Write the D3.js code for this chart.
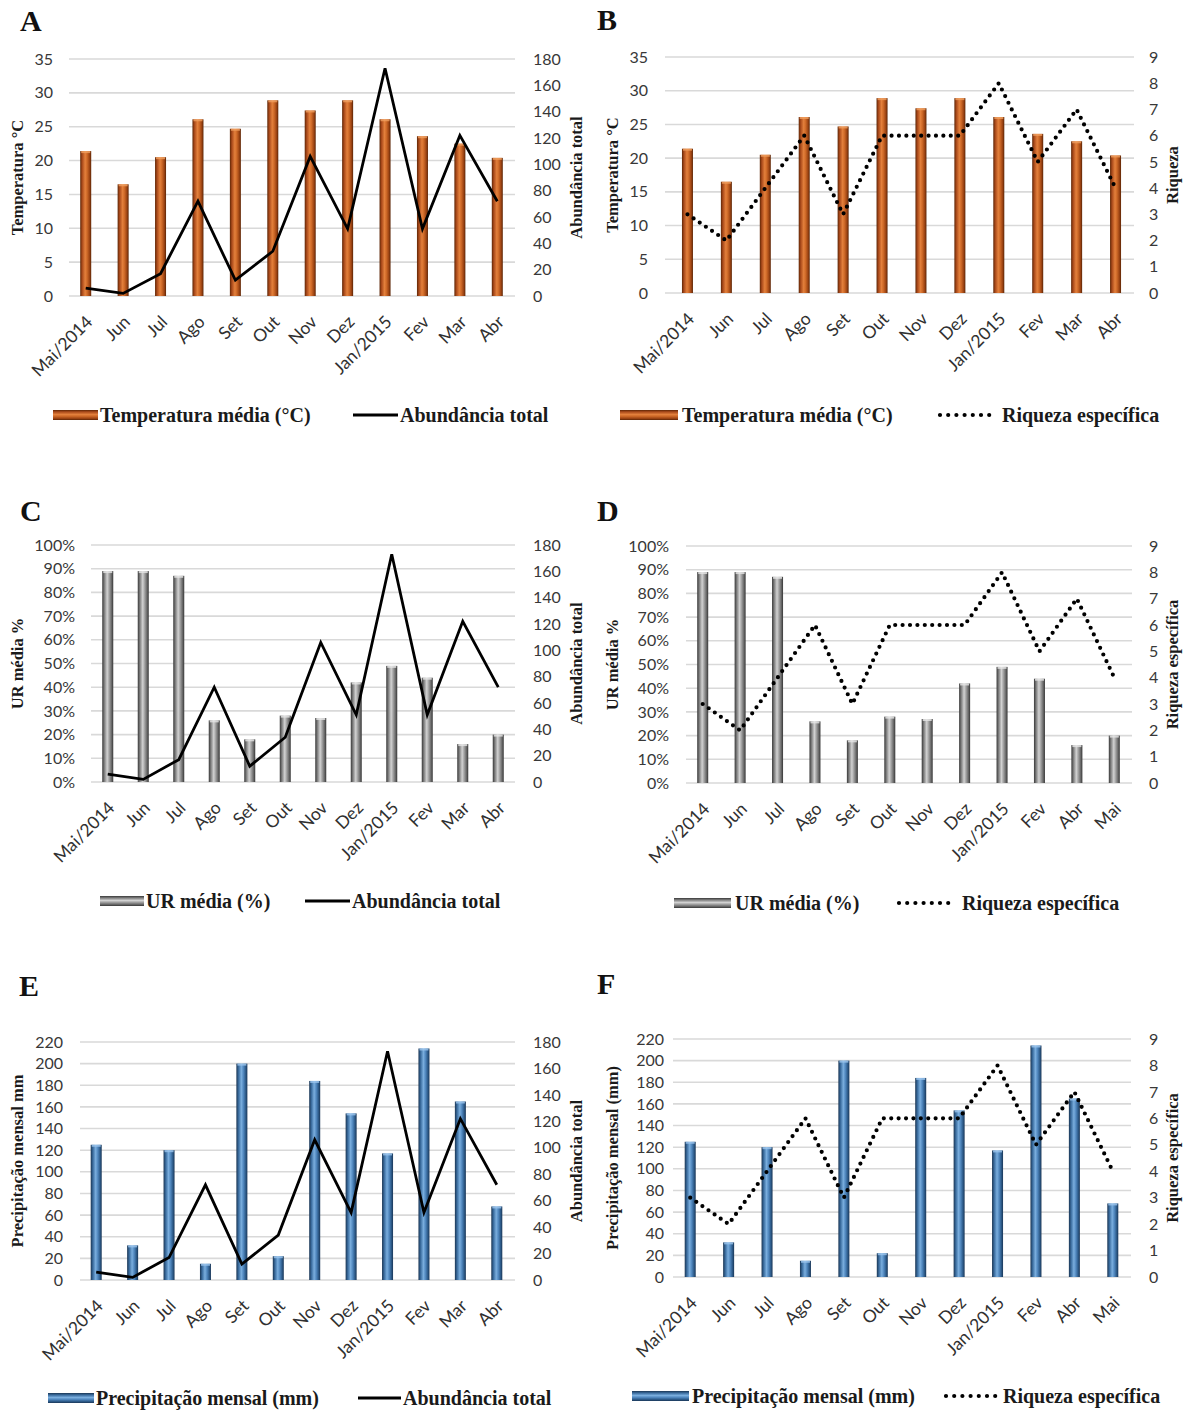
<!DOCTYPE html>
<html>
<head>
<meta charset="utf-8">
<script src="https://cdn.jsdelivr.net/npm/d3@7"></script>
<style>
  body { margin: 0; background: #fff; }
  svg { display: block; }
</style>
</head>
<body>
<svg id="chart" width="1188" height="1411"></svg>
<script>
// ---------------- DATA ----------------
const monthsA = ["Mai/2014","Jun","Jul","Ago","Set","Out","Nov","Dez","Jan/2015","Fev","Mar","Abr"];
const monthsB = ["Mai/2014","Jun","Jul","Ago","Set","Out","Nov","Dez","Jan/2015","Fev","Abr","Mai"];
const temperature   = [21.4, 16.5, 20.5, 26.1, 24.7, 28.9, 27.4, 28.9, 26.1, 23.6, 22.5, 20.4];
const humidity      = [0.89, 0.89, 0.87, 0.26, 0.18, 0.28, 0.27, 0.42, 0.49, 0.44, 0.16, 0.20];
const precipitation = [125, 32, 120, 15, 200, 22, 184, 154, 117, 214, 165, 68];
const abundance     = [6, 2, 17, 72, 12, 34, 106, 51, 173, 51, 122, 72];
const richness      = [3, 2, 4, 6, 3, 6, 6, 6, 8, 5, 7, 4];
const tempTicks  = [0, 5, 10, 15, 20, 25, 30, 35];
const humTicks   = [0, 0.1, 0.2, 0.3, 0.4, 0.5, 0.6, 0.7, 0.8, 0.9, 1.0];
const precTicks  = [0, 20, 40, 60, 80, 100, 120, 140, 160, 180, 200, 220];
const abundTicks = [0, 20, 40, 60, 80, 100, 120, 140, 160, 180];
const richTicks  = [0, 1, 2, 3, 4, 5, 6, 7, 8, 9];

// ---------------- STYLE ----------------
const SANS = "Lato, 'Open Sans', 'Liberation Sans', sans-serif";
const SERIF = "'Liberation Serif', 'DejaVu Serif', serif";

const svg = d3.select("#chart");
const defs = svg.append("defs");

function gradient(id, stops, vertical) {
  const lg = defs.append("linearGradient").attr("id", id)
    .attr("x1", "0").attr("y1", "0")
    .attr("x2", vertical ? "0" : "1").attr("y2", vertical ? "1" : "0");
  stops.forEach(([o, c]) => lg.append("stop").attr("offset", o).attr("stop-color", c));
}
const palettes = {
  orange: [["0%","#5e2606"],["18%","#a9491a"],["45%","#e3803c"],["62%","#cf6a28"],["85%","#9a4212"],["100%","#5a2405"]],
  gray:   [["0%","#383838"],["20%","#808080"],["45%","#d2d2d2"],["65%","#9c9c9c"],["85%","#666666"],["100%","#363636"]],
  blue:   [["0%","#1a3553"],["20%","#3a6c9e"],["45%","#7aaede"],["65%","#4f86bd"],["85%","#2c5987"],["100%","#1a3656"]]
};
Object.entries(palettes).forEach(([k, s]) => {
  gradient("bar-" + k, s, false);
  gradient("leg-" + k, s, true);
});
const capColor = { orange: "#f0a060", gray: "#e6e6e6", blue: "#9cc6ee" };

function drawPanel(p) {
  const g = svg.append("g");
  const x = d3.scaleBand().domain(p.cats).range([p.x0, p.x1]);
  const yL = d3.scaleLinear().domain(p.leftDomain).range([p.yBot, p.yTop]);
  const yR = d3.scaleLinear().domain(p.rightDomain).range([p.yBot, p.yTop]);
  const cx = d => x(d) + x.bandwidth() / 2;

  // panel letter
  g.append("text").attr("x", p.letterX).attr("y", p.letterY)
    .attr("font-family", SERIF).attr("font-weight", "bold").attr("font-size", 30)
    .attr("fill", "#111").text(p.letter);

  // gridlines
  g.append("g").selectAll("line").data(p.leftTicks).join("line")
    .attr("x1", p.gx0).attr("x2", p.gx1)
    .attr("y1", d => yL(d)).attr("y2", d => yL(d))
    .attr("stroke", "#d9d9d9").attr("stroke-width", 1.6);

  // left axis
  const la = g.append("g").attr("transform", `translate(${p.leftLabelX},0)`)
    .call(d3.axisLeft(yL).tickValues(p.leftTicks).tickSize(0).tickPadding(0).tickFormat(p.leftFmt));
  la.select(".domain").remove();
  la.selectAll("text").attr("font-family", SANS).attr("font-size", 16).attr("fill", "#383838");

  // right axis
  const ra = g.append("g").attr("transform", `translate(${p.rightLabelX},0)`)
    .call(d3.axisRight(yR).tickValues(p.rightTicks).tickSize(0).tickPadding(0).tickFormat(d3.format("d")));
  ra.select(".domain").remove();
  ra.selectAll("text").attr("font-family", SANS).attr("font-size", 16).attr("fill", "#383838");

  // category axis
  const xa = g.append("g").attr("transform", `translate(0,${p.yBot})`)
    .call(d3.axisBottom(x).tickSize(0));
  xa.select(".domain").remove();
  xa.selectAll("text")
    .attr("x", 0).attr("y", 0).attr("dy", 0)
    .attr("text-anchor", "end")
    .attr("transform", "translate(8,27) rotate(-45)")
    .attr("font-family", SANS).attr("font-size", 17.5).attr("fill", "#303030");

  // bars
  const bw = p.barWidth;
  const bars = g.append("g").selectAll("g").data(p.cats).join("g");
  bars.append("rect")
    .attr("x", d => cx(d) - bw / 2)
    .attr("width", bw)
    .attr("y", (d, i) => yL(p.barValues[i]))
    .attr("height", (d, i) => p.yBot - yL(p.barValues[i]))
    .attr("fill", `url(#bar-${p.color})`);
  bars.append("rect")
    .attr("x", d => cx(d) - bw / 2 + 1)
    .attr("width", bw - 2)
    .attr("y", (d, i) => yL(p.barValues[i]))
    .attr("height", 2)
    .attr("fill", capColor[p.color]).attr("opacity", 0.8);

  // line
  const line = d3.line().x((d, i) => cx(p.cats[i])).y(d => yR(d));
  const path = g.append("path").datum(p.lineValues)
    .attr("d", line).attr("fill", "none").attr("stroke", "#000");
  if (p.dotted) {
    path.attr("stroke-width", 4.2).attr("stroke-dasharray", "0 7.4").attr("stroke-linecap", "round");
  } else {
    path.attr("stroke-width", 2.8).attr("stroke-linejoin", "miter");
  }

  // axis titles
  const midY = (p.yTop + p.yBot) / 2;
  g.append("text").attr("transform", `translate(${p.leftTitleX + 6},${midY}) rotate(-90)`)
    .attr("text-anchor", "middle").attr("font-family", SERIF).attr("font-weight", "bold")
    .attr("font-size", 16.5).attr("fill", "#1a1a1a").text(p.leftTitle);
  g.append("text").attr("transform", `translate(${p.rightTitleX + 6},${midY}) rotate(-90)`)
    .attr("text-anchor", "middle").attr("font-family", SERIF).attr("font-weight", "bold")
    .attr("font-size", 16.5).attr("fill", "#1a1a1a").text(p.rightTitle);

  // legend
  const L = p.legend;
  g.append("rect").attr("x", L.sw0).attr("y", L.y - 5).attr("width", L.sw1 - L.sw0).attr("height", 10)
    .attr("fill", `url(#leg-${p.color})`);
  g.append("text").attr("x", L.t1).attr("y", L.y + 7)
    .attr("font-family", SERIF).attr("font-weight", "bold").attr("font-size", 20)
    .attr("fill", "#1a1a1a").text(L.label1);
  const ll = g.append("line").attr("x1", L.l0).attr("x2", L.l1).attr("y1", L.y).attr("y2", L.y)
    .attr("stroke", "#000");
  if (p.dotted) ll.attr("stroke-width", 4.2).attr("stroke-dasharray", "0 8.2").attr("stroke-linecap", "round");
  else ll.attr("stroke-width", 2.8);
  g.append("text").attr("x", L.t2).attr("y", L.y + 7)
    .attr("font-family", SERIF).attr("font-weight", "bold").attr("font-size", 20)
    .attr("fill", "#1a1a1a").text(L.label2);
}

const pct = d3.format(".0%");
const num = d3.format("d");

// ---------------- PANELS ----------------
drawPanel({
  letter: "A", letterX: 20, letterY: 31,
  cats: monthsA, x0: 67, x1: 516, yTop: 59, yBot: 296, gx0: 69, gx1: 515,
  leftDomain: [0, 35], leftTicks: tempTicks, leftFmt: num,
  rightDomain: [0, 180], rightTicks: abundTicks,
  leftLabelX: 53, rightLabelX: 533, leftTitleX: 17, rightTitleX: 576,
  barValues: temperature, color: "orange", barWidth: 11,
  lineValues: abundance, dotted: false,
  leftTitle: "Temperatura °C", rightTitle: "Abundância total",
  legend: { y: 415, sw0: 53, sw1: 98, t1: 100, l0: 353, l1: 398, t2: 400,
            label1: "Temperatura média (°C)", label2: "Abundância total" }
});
drawPanel({
  letter: "B", letterX: 597, letterY: 30,
  cats: monthsA, x0: 668, x1: 1135, yTop: 57, yBot: 293, gx0: 665, gx1: 1134,
  leftDomain: [0, 35], leftTicks: tempTicks, leftFmt: num,
  rightDomain: [0, 9], rightTicks: richTicks,
  leftLabelX: 648, rightLabelX: 1149, leftTitleX: 612, rightTitleX: 1172,
  barValues: temperature, color: "orange", barWidth: 11,
  lineValues: richness, dotted: true,
  leftTitle: "Temperatura °C", rightTitle: "Riqueza",
  legend: { y: 415, sw0: 620, sw1: 678, t1: 682, l0: 940, l1: 992, t2: 1002,
            label1: "Temperatura média (°C)", label2: "Riqueza específica" }
});
drawPanel({
  letter: "C", letterX: 20, letterY: 521,
  cats: monthsA, x0: 90, x1: 516, yTop: 545, yBot: 782, gx0: 91, gx1: 515,
  leftDomain: [0, 1], leftTicks: humTicks, leftFmt: pct,
  rightDomain: [0, 180], rightTicks: abundTicks,
  leftLabelX: 75, rightLabelX: 533, leftTitleX: 17, rightTitleX: 576,
  barValues: humidity, color: "gray", barWidth: 11,
  lineValues: abundance, dotted: false,
  leftTitle: "UR média %", rightTitle: "Abundância total",
  legend: { y: 901, sw0: 100, sw1: 144, t1: 146, l0: 305, l1: 350, t2: 352,
            label1: "UR média (%)", label2: "Abundância total" }
});
drawPanel({
  letter: "D", letterX: 597, letterY: 521,
  cats: monthsB, x0: 684, x1: 1133, yTop: 546, yBot: 783, gx0: 686, gx1: 1132,
  leftDomain: [0, 1], leftTicks: humTicks, leftFmt: pct,
  rightDomain: [0, 9], rightTicks: richTicks,
  leftLabelX: 669, rightLabelX: 1149, leftTitleX: 612, rightTitleX: 1172,
  barValues: humidity, color: "gray", barWidth: 11,
  lineValues: richness, dotted: true,
  leftTitle: "UR média %", rightTitle: "Riqueza específica",
  legend: { y: 903, sw0: 674, sw1: 731, t1: 735, l0: 899, l1: 951, t2: 962,
            label1: "UR média (%)", label2: "Riqueza específica" }
});
drawPanel({
  letter: "E", letterX: 19, letterY: 996,
  cats: monthsA, x0: 78, x1: 515, yTop: 1042, yBot: 1280, gx0: 80, gx1: 515,
  leftDomain: [0, 220], leftTicks: precTicks, leftFmt: num,
  rightDomain: [0, 180], rightTicks: abundTicks,
  leftLabelX: 63, rightLabelX: 533, leftTitleX: 17, rightTitleX: 576,
  barValues: precipitation, color: "blue", barWidth: 11,
  lineValues: abundance, dotted: false,
  leftTitle: "Precipitação mensal mm", rightTitle: "Abundância total",
  legend: { y: 1398, sw0: 48, sw1: 94, t1: 96, l0: 358, l1: 401, t2: 403,
            label1: "Precipitação mensal (mm)", label2: "Abundância total" }
});
drawPanel({
  letter: "F", letterX: 597, letterY: 994,
  cats: monthsB, x0: 671, x1: 1132, yTop: 1039, yBot: 1277, gx0: 673, gx1: 1131,
  leftDomain: [0, 220], leftTicks: precTicks, leftFmt: num,
  rightDomain: [0, 9], rightTicks: richTicks,
  leftLabelX: 664, rightLabelX: 1149, leftTitleX: 612, rightTitleX: 1172,
  barValues: precipitation, color: "blue", barWidth: 11,
  lineValues: richness, dotted: true,
  leftTitle: "Precipitação mensal (mm)", rightTitle: "Riqueza específica",
  legend: { y: 1396, sw0: 632, sw1: 689, t1: 692, l0: 946, l1: 996, t2: 1003,
            label1: "Precipitação mensal (mm)", label2: "Riqueza específica" }
});
</script>
</body>
</html>
